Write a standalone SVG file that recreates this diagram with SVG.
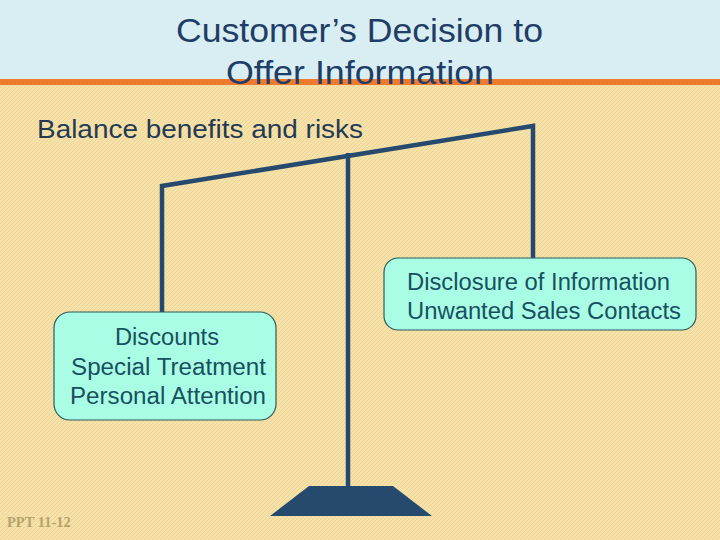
<svg xmlns="http://www.w3.org/2000/svg" width="720" height="540" viewBox="0 0 720 540">
<defs>
<pattern id="tex" width="4" height="4" patternUnits="userSpaceOnUse">
<rect width="4" height="4" fill="#f6e2a8"/>
<path d="M0 4L4 0" stroke="#ecd596" stroke-width="1"/>
</pattern>
<style>
.title{font-family:"Liberation Sans",Arial,sans-serif;font-size:33px;fill:#1f3d66}
.bal{font-family:"Liberation Sans",Arial,sans-serif;font-size:25px;fill:#233a55}
.box{fill:#a9fde4;stroke:#2d5a5a;stroke-width:1.2}
.bt{font-family:"Liberation Sans",Arial,sans-serif;font-size:23px;fill:#17505f}
.beam{stroke:#264a6e;stroke-width:4.5;fill:none;stroke-linejoin:miter}
</style>
</defs>
<rect width="720" height="540" fill="url(#tex)"/>
<rect width="720" height="80" fill="#d8eef3"/>
<rect y="79" width="720" height="6" fill="#ee7a2e"/>
<text class="title" x="176" y="42" textLength="367" lengthAdjust="spacingAndGlyphs">Customer’s Decision to</text>
<text class="title" x="226" y="84" textLength="268" lengthAdjust="spacingAndGlyphs">Offer Information</text>
<text class="bal" x="37" y="138" textLength="326" lengthAdjust="spacingAndGlyphs">Balance benefits and risks</text>
<g id="connectors">
<path class="beam" d="M162 313V186L533 126V258"/>
<path class="beam" d="M348 153V488"/>
<polygon points="309,486 393,486 432,516 270,516" fill="#264a6e"/>
</g>
<g id="benefits">
<rect class="box" x="54" y="312" width="222" height="108" rx="16"/>
<text class="bt" x="115" y="345" textLength="104" lengthAdjust="spacingAndGlyphs">Discounts</text>
<text class="bt" x="71" y="375" textLength="195" lengthAdjust="spacingAndGlyphs">Special Treatment</text>
<text class="bt" x="70" y="404" textLength="196" lengthAdjust="spacingAndGlyphs">Personal Attention</text>
</g>
<g id="risks">
<rect class="box" x="384" y="258" width="312" height="72" rx="14"/>
<text class="bt" x="407" y="290" textLength="263" lengthAdjust="spacingAndGlyphs">Disclosure of Information</text>
<text class="bt" x="407" y="319" textLength="274" lengthAdjust="spacingAndGlyphs">Unwanted Sales Contacts</text>
</g>
<text x="7" y="527" font-family="Liberation Serif,serif" font-size="14.5" font-weight="bold" fill="#b5a26e">PPT 11-12</text>
</svg>
